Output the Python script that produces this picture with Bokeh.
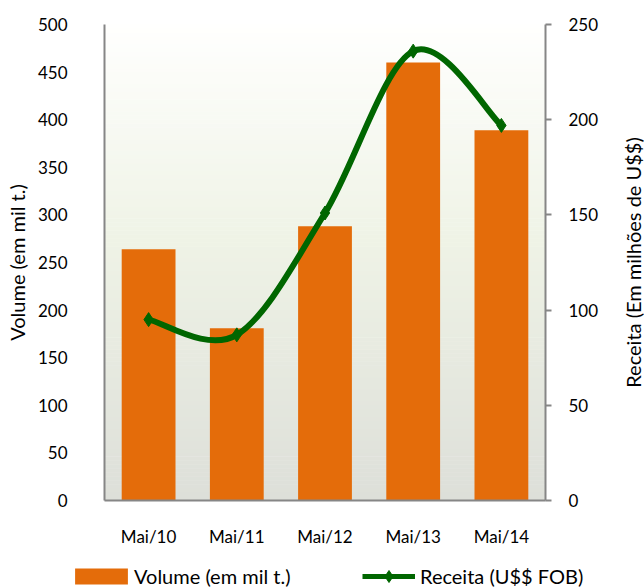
import math
from bokeh.plotting import figure
from bokeh.layouts import row
from bokeh.models import (Range1d, LinearAxis, FixedTicker, Legend, LegendItem, Label)
from bokeh.embed import file_html
from bokeh.resources import INLINE

# ---- data ----
categories = ["Mai/10", "Mai/11", "Mai/12", "Mai/13", "Mai/14"]
volume = [264, 181, 288, 460, 389]          # em mil t.
receita = [95, 87, 151, 236, 197]           # em milhões de U$$
left_ticks = [0, 50, 100, 150, 200, 250, 300, 350, 400, 450, 500]
right_ticks = [0, 50, 100, 150, 200, 250]

FONT = "Lato"
BAR = "#E46C0A"
GREEN = "#006600"
AXIS = "#868686"

xs = list(range(len(categories)))

p = figure(width=604, height=558, output_backend="svg", toolbar_location=None,
           x_range=Range1d(-0.5, len(categories) - 0.5), y_range=Range1d(0, 500),
           min_border_left=104, min_border_right=59, min_border_top=24, min_border_bottom=58)
p.extra_y_ranges = {"rev": Range1d(0, 250)}
p.outline_line_color = None
p.xgrid.visible = False
p.ygrid.visible = False
p.background_fill_color = "#FFFFFF"
p.border_fill_color = "#FFFFFF"

# ---- gradient background (vertical) ----
stops = [(0.0, (0xDD, 0xDF, 0xD9)), (0.55, (0xEF, 0xF3, 0xE6)), (1.0, (0xFF, 0xFF, 0xFE))]
def grad(t):
    for (t0, c0), (t1, c1) in zip(stops[:-1], stops[1:]):
        if t0 <= t <= t1:
            f = (t - t0) / (t1 - t0)
            return "#%02x%02x%02x" % tuple(int(round(a + (b - a) * f)) for a, b in zip(c0, c1))
    return "#ffffff"
n = 120
bottoms = [500 * i / n for i in range(n)]
tops = [500 * (i + 1) / n + 0.5 for i in range(n)]
cols = [grad((i + 0.5) / n) for i in range(n)]
p.quad(left=-0.5, right=len(categories) - 0.5, bottom=bottoms, top=tops,
       fill_color=cols, line_color=None, level="underlay")

# ---- bars ----
p.vbar(x=xs, top=volume, width=0.61, fill_color=BAR, line_color=None)

# ---- smoothed line (Excel-style bezier) ----
pts = list(zip(xs, receita))
x0s, y0s, x1s, y1s, cx0s, cy0s, cx1s, cy1s = ([] for _ in range(8))
for i in range(len(pts) - 1):
    P0 = pts[i - 1] if i > 0 else pts[i]
    P1 = pts[i]
    P2 = pts[i + 1]
    P3 = pts[i + 2] if i + 2 < len(pts) else pts[i + 1]
    x0s.append(P1[0]); y0s.append(P1[1])
    x1s.append(P2[0]); y1s.append(P2[1])
    cx0s.append(P1[0] + (P2[0] - P0[0]) / 6); cy0s.append(P1[1] + (P2[1] - P0[1]) / 6)
    cx1s.append(P2[0] - (P3[0] - P1[0]) / 6); cy1s.append(P2[1] - (P3[1] - P1[1]) / 6)
p.bezier(x0=x0s, y0=y0s, x1=x1s, y1=y1s, cx0=cx0s, cy0=cy0s, cx1=cx1s, cy1=cy1s,
         line_color=GREEN, line_width=6, y_range_name="rev")
p.scatter(x=xs, y=receita, marker="diamond", size=14, fill_color=GREEN,
          line_color=GREEN, y_range_name="rev")

# ---- axes ----
xa = p.xaxis[0]
xa.ticker = FixedTicker(ticks=xs)
xa.major_label_overrides = {i: c for i, c in enumerate(categories)}
xa.major_tick_out = 0
xa.major_tick_in = 0
xa.minor_tick_line_color = None
xa.axis_line_color = AXIS
xa.axis_line_width = 2
xa.major_label_standoff = 25
xa.major_label_text_font = FONT
xa.major_label_text_font_size = "17px"
xa.major_label_text_color = "#000000"

ya = p.yaxis[0]
ya.ticker = FixedTicker(ticks=left_ticks)
ya.major_tick_out = 0
ya.major_tick_in = 0
ya.minor_tick_line_color = None
ya.axis_line_color = AXIS
ya.axis_line_width = 2
ya.major_label_standoff = 37
ya.major_label_text_font = FONT
ya.major_label_text_font_size = "17px"
ya.major_label_text_color = "#000000"
ya.axis_label = "Volume (em mil t.)"
ya.axis_label_text_font = FONT
ya.axis_label_text_font_size = "20px"
ya.axis_label_text_font_style = "normal"
ya.axis_label_text_color = "#000000"
ya.axis_label_standoff = 6

ra = LinearAxis(y_range_name="rev", ticker=FixedTicker(ticks=right_ticks))
ra.major_tick_out = 6
ra.major_tick_in = 0
ra.major_tick_line_color = AXIS
ra.major_tick_line_width = 2
ra.minor_tick_line_color = None
ra.axis_line_color = AXIS
ra.axis_line_width = 2
ra.major_label_standoff = 17
ra.major_label_text_font = FONT
ra.major_label_text_font_size = "17px"
ra.major_label_text_color = "#000000"
p.add_layout(ra, "right")

# ---- right-axis title strip (reads bottom-to-top, centred on the axis) ----
tf = figure(width=40, height=558, output_backend="svg", toolbar_location=None,
            x_axis_location=None, y_axis_location=None,
            min_border_left=0, min_border_right=0, min_border_top=24, min_border_bottom=58,
            x_range=Range1d(0, 40), y_range=Range1d(0, 250))
tf.outline_line_color = None
tf.xgrid.visible = False
tf.ygrid.visible = False
tf.background_fill_color = "#FFFFFF"
tf.border_fill_color = "#FFFFFF"
tf.add_layout(Label(x=28, y=125, text="Receita (Em milhões de U$$)", angle=math.pi / 2,
                    text_align="center", text_baseline="middle", text_font=FONT,
                    text_font_size="20px", text_color="#000000"))

# ---- legend strip: separate root below the chart ----
lf = figure(width=644, height=30, output_backend="svg", toolbar_location=None,
            x_axis_location=None, y_axis_location=None,
            min_border=0, min_border_left=0, min_border_right=0,
            min_border_top=0, min_border_bottom=0,
            x_range=Range1d(-0.5, len(categories) - 0.5), y_range=Range1d(0, 500))
lf.outline_line_color = None
lf.xgrid.visible = False
lf.ygrid.visible = False
lf.background_fill_color = "#FFFFFF"
lf.border_fill_color = "#FFFFFF"
lf.extra_y_ranges = {"rev": Range1d(0, 250)}
lb = lf.vbar(x=xs, top=volume, width=0.61, fill_color=BAR, line_color=None, visible=False)
ll = lf.line(x=xs, y=receita, line_color=GREEN, line_width=5, y_range_name="rev", visible=False)
lm = lf.scatter(x=xs, y=receita, marker="diamond", size=14, fill_color=GREEN, line_color=GREEN,
                y_range_name="rev", visible=False)

common = dict(orientation="horizontal", padding=0, margin=0, spacing=0,
              border_line_color=None, background_fill_alpha=0,
              label_text_font=FONT, label_text_font_size="20px", label_text_color="#000000")
lg1 = Legend(items=[LegendItem(label="Volume (em mil t.)", renderers=[lb])],
             location=(68, 0), glyph_width=66, glyph_height=20, label_standoff=0, **common)
lg2 = Legend(items=[LegendItem(label="Receita (U$$ FOB)", renderers=[ll, lm])],
             location=(362, -3), glyph_width=53, glyph_height=30, label_standoff=5, **common)
lf.add_layout(lg1, "center")
lf.add_layout(lg2, "center")

top_row = row(p, tf, spacing=0)
open("out.html", "w").write(file_html((top_row, lf), INLINE))
